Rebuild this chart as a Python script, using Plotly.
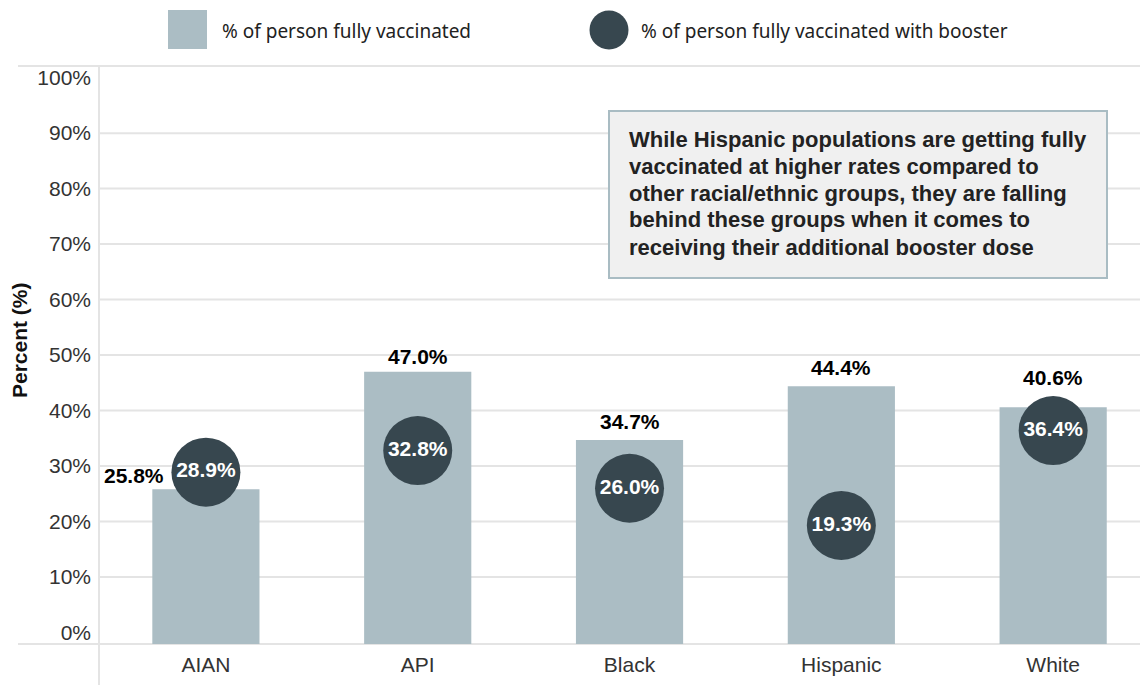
import plotly.graph_objects as go

# ---------------- data ----------------
categories = ["AIAN", "API", "Black", "Hispanic", "White"]
fully_vaccinated = [25.8, 47.0, 34.7, 44.4, 40.6]
booster = [28.9, 32.8, 26.0, 19.3, 36.4]
y_ticks = [0, 10, 20, 30, 40, 50, 60, 70, 80, 90, 100]
grid_values = [10, 20, 30, 40, 50, 60, 70, 80, 90]
legend_labels = ["% of person fully vaccinated", "% of person fully vaccinated with booster"]
callout_lines = [
    "While Hispanic populations are getting fully",
    "vaccinated at higher rates compared to",
    "other racial/ethnic groups, they are falling",
    "behind these groups when it comes to",
    "receiving their additional booster dose",
]

# ---------------- style ----------------
label_side = ["left", "top", "top", "top", "top"]
label_yshift = [0, 2, 5, 5, 16]

W, H = 1140, 685
ML, MR, MT, MB = 100, 0, 66, 41
PW, PH = W - ML - MR, H - MT - MB
Y_MIN, Y_MAX = -2.07, 102.1
BAR_COLOR = "#abbdc4"
DOT_COLOR = "#37474f"
LINE_COLOR = "#e4e4e4"
SANS = "Liberation Sans, Arial, sans-serif"
LEG_FONT = "Noto Sans, sans-serif"


def px_x(p):
    return (p - ML) / PW


def px_y(p):
    return (H - MB - p) / PH


fig = go.Figure()

fig.add_trace(go.Bar(
    x=categories,
    y=[v - Y_MIN for v in fully_vaccinated],
    base=[Y_MIN] * len(categories),
    marker=dict(color=BAR_COLOR, line=dict(width=0)),
    width=0.506,
    showlegend=False,
    hoverinfo="skip",
))

fig.add_trace(go.Scatter(
    x=categories,
    y=booster,
    mode="markers+text",
    marker=dict(size=69, color=DOT_COLOR, line=dict(width=0)),
    text=[f"{v:.1f}%" for v in booster],
    textposition="middle center",
    textfont=dict(family=SANS, size=21, color="white", weight="bold"),
    showlegend=False,
    cliponaxis=False,
))

annotations = []
for cat, v, side, ys in zip(categories, fully_vaccinated, label_side, label_yshift):
    if side == "left":
        annotations.append(dict(
            x=cat, y=v, xref="x", yref="y", text=f"<b>{v:.1f}%</b>",
            showarrow=False, xanchor="right", yanchor="bottom",
            xshift=-40, yshift=ys,
            font=dict(family=SANS, size=21, color="#000"),
        ))
    else:
        annotations.append(dict(
            x=cat, y=v, xref="x", yref="y", text=f"<b>{v:.1f}%</b>",
            showarrow=False, xanchor="center", yanchor="bottom", yshift=ys,
            font=dict(family=SANS, size=21, color="#000"),
        ))

# y-axis title
annotations.append(dict(
    x=px_x(19), y=px_y(340), xref="paper", yref="paper",
    text="<b>Percent (%)</b>", textangle=-90, showarrow=False,
    xanchor="center", yanchor="middle",
    font=dict(family=SANS, size=21, color="#111"),
))

# callout text
for i, line in enumerate(callout_lines):
    annotations.append(dict(
        x=px_x(627), y=px_y(139 + i * 27), xref="paper", yref="paper",
        text=f"<b>{line}</b>", showarrow=False,
        xanchor="left", yanchor="middle",
        font=dict(family=SANS, size=22, color="#222"),
    ))

# legend texts
annotations.append(dict(
    x=px_x(220), y=px_y(31), xref="paper", yref="paper",
    text=legend_labels[0], showarrow=False, xanchor="left", yanchor="middle",
    font=dict(family=LEG_FONT, size=19, color="#222"),
))
annotations.append(dict(
    x=px_x(639), y=px_y(31), xref="paper", yref="paper",
    text=legend_labels[1], showarrow=False, xanchor="left", yanchor="middle",
    font=dict(family=LEG_FONT, size=19, color="#222"),
))

shapes = []
# gridlines
for g in grid_values:
    shapes.append(dict(type="line", xref="paper", yref="y", x0=0, x1=1, y0=g, y1=g,
                       line=dict(color=LINE_COLOR, width=2), layer="below"))
# frame lines
shapes.append(dict(type="line", xref="paper", yref="paper", x0=px_x(18), x1=1, y0=0, y1=0,
                   line=dict(color=LINE_COLOR, width=2), layer="below"))
shapes.append(dict(type="line", xref="paper", yref="paper", x0=px_x(18), x1=1, y0=1, y1=1,
                   line=dict(color=LINE_COLOR, width=2), layer="below"))
shapes.append(dict(type="line", xref="paper", yref="paper", x0=px_x(99), x1=px_x(99),
                   y0=1, y1=px_y(H), line=dict(color=LINE_COLOR, width=2), layer="below"))
# callout box
shapes.append(dict(type="rect", xref="paper", yref="paper",
                   x0=px_x(609), x1=px_x(1107), y0=px_y(278), y1=px_y(111),
                   fillcolor="#f0f0f0", line=dict(color="#a9bcc3", width=2), layer="above"))
# legend markers
shapes.append(dict(type="rect", xref="paper", yref="paper",
                   x0=px_x(168), x1=px_x(207), y0=px_y(49), y1=px_y(10),
                   fillcolor=BAR_COLOR, line=dict(width=0)))
shapes.append(dict(type="circle", xref="paper", yref="paper",
                   x0=px_x(589.5), x1=px_x(628.5), y0=px_y(49.5), y1=px_y(10.5),
                   fillcolor=DOT_COLOR, line=dict(width=0)))

fig.update_layout(
    width=W, height=H,
    margin=dict(l=ML, r=MR, t=MT, b=MB, pad=0),
    plot_bgcolor="white", paper_bgcolor="white",
    xaxis=dict(
        type="category", range=[-0.5, 4.41],
        showgrid=False, zeroline=False, showline=False, ticks="",
        ticklabelstandoff=6,
        tickfont=dict(family=SANS, size=21, color="#333"),
        fixedrange=True,
    ),
    yaxis=dict(
        range=[Y_MIN, Y_MAX], tickvals=y_ticks, ticktext=[f"{t}%" for t in y_ticks],
        showgrid=False, zeroline=False, showline=False, ticks="",
        ticklabelstandoff=8,
        tickfont=dict(family=SANS, size=21, color="#333"),
        fixedrange=True,
    ),
    annotations=annotations,
    shapes=shapes,
    showlegend=False,
)

fig.write_html(
    "out.html",
    config={"displayModeBar": False},
    post_script="document.body.style.margin='0';document.body.style.overflow='hidden';",
)
